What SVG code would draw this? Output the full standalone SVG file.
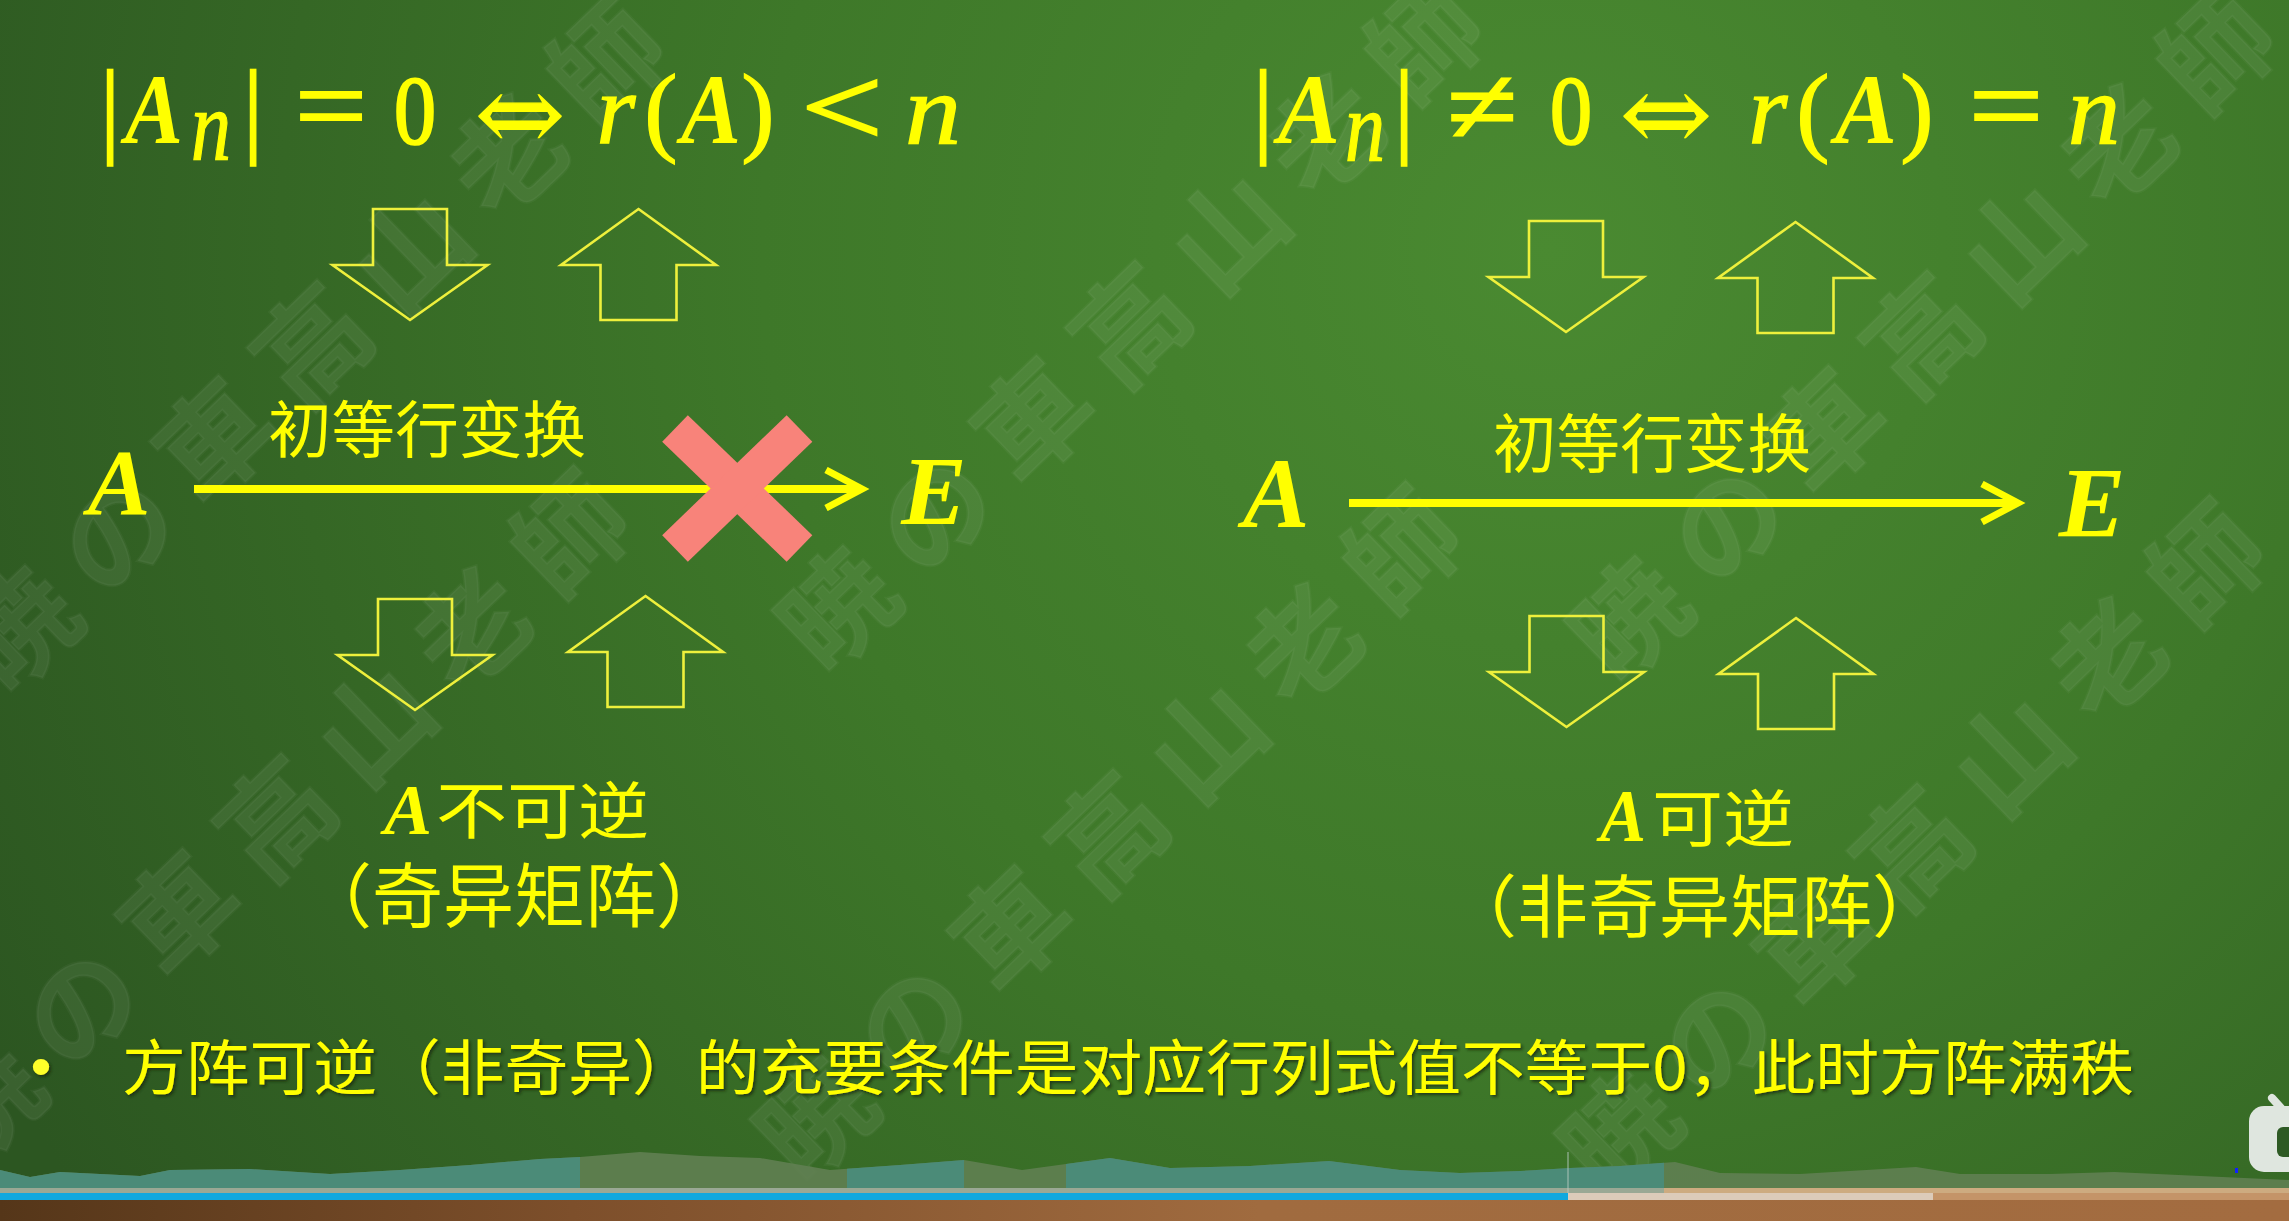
<svg xmlns="http://www.w3.org/2000/svg" width="2289" height="1221" viewBox="0 0 2289 1221">
<style>
.cjk{font-family:"Noto Sans CJK SC","Noto Sans CJK JP",sans-serif;fill:#ffff00}
.m{font-family:"Liberation Serif","DejaVu Serif",serif;fill:#ffff00;text-anchor:middle}
.f{stroke:#ffff00;stroke-width:1.3}
.fb{stroke:#ffff00;stroke-width:2.2}
.mi{font-style:italic}
.mb{font-style:italic;font-weight:bold}
.sym{font-family:"DejaVu Serif",serif;fill:#ffff00;text-anchor:middle}
.blk{fill:none;stroke:#eef03c;stroke-width:2.6;stroke-linejoin:miter}
.hline{stroke:#ffff00;stroke-width:8;fill:none}
.wm{font-family:"Noto Sans CJK JP","Noto Sans CJK SC",sans-serif;font-weight:700;font-size:112px;letter-spacing:24px;fill:#ffffff;fill-opacity:0.065;stroke:#ffffff;stroke-opacity:0.035;stroke-width:3}
</style>
<defs>
<radialGradient id="bg" cx="1550" cy="250" r="1750" gradientUnits="userSpaceOnUse">
<stop offset="0" stop-color="#4a8a31"/>
<stop offset="0.45" stop-color="#3e7829"/>
<stop offset="1" stop-color="#2c5621"/>
</radialGradient>
<linearGradient id="wood" x1="0" y1="0" x2="2289" y2="0" gradientUnits="userSpaceOnUse">
<stop offset="0" stop-color="#553619"/>
<stop offset="0.25" stop-color="#7d4f2b"/>
<stop offset="0.55" stop-color="#a06b3f"/>
<stop offset="1" stop-color="#a36c40"/>
</linearGradient>
<path id="dn" d="M-37,0 H37 V56 H77.5 L0,111 L-77.5,56 H-37 Z"/>
<path id="up" d="M0,0 L77.5,56 H38 V111 H-38 V56 H-77.5 Z"/>
<polygon id="wave" points="0,1170 30,1177 60,1172 140,1176 170,1170 250,1169 330,1174 400,1170 470,1165 540,1159 580,1157 640,1152 700,1156 760,1158 830,1170 900,1165 964,1160 1022,1170 1110,1158 1170,1168 1250,1166 1329,1161 1400,1170 1460,1173 1520,1171 1570,1168 1620,1166 1675,1162 1720,1173 1800,1174 1916,1167 1960,1174 2050,1174 2114,1172 2200,1176 2289,1180 2289,1190 0,1190"/>
<marker id="chev" markerUnits="userSpaceOnUse" viewBox="0 0 60 44" markerWidth="60" markerHeight="44" refX="40" refY="22" orient="auto">
<path d="M4,3 L40,22 L4,41" fill="none" stroke="#ffff00" stroke-width="7" stroke-linejoin="miter"/>
</marker>
<filter id="sh" x="-5%" y="-30%" width="110%" height="160%">
<feDropShadow dx="2" dy="2" stdDeviation="1.5" flood-color="#142a0c" flood-opacity="0.8"/>
</filter>
<clipPath id="teal">
<rect x="0" y="1100" width="580" height="100"/>
<rect x="847" y="1100" width="117" height="100"/>
<rect x="1066" y="1100" width="598" height="100"/>
</clipPath>
</defs>

<g id="background">
<rect x="0" y="0" width="2289" height="1221" fill="url(#bg)"/>
</g>

<g id="watermark">
<text class="wm" transform="translate(20,630) rotate(-44)" x="-56" y="40">暁の車高山老師</text>
<text class="wm" transform="translate(-16,1103) rotate(-44)" x="-56" y="40">暁の車高山老師</text>
<text class="wm" transform="translate(838,610) rotate(-44)" x="-56" y="40">暁の車高山老師</text>
<text class="wm" transform="translate(816,1119) rotate(-44)" x="-56" y="40">暁の車高山老師</text>
<text class="wm" transform="translate(1620,1133) rotate(-44)" x="-56" y="40">暁の車高山老師</text>
<text class="wm" transform="translate(1630,620) rotate(-44)" x="-56" y="40">暁の車高山老師</text>
</g>

<g id="formula-left" font-size="100">
<text class="m f" x="110" y="143" font-size="106">|</text>
<text class="m mb" x="154" y="143" textLength="58" lengthAdjust="spacingAndGlyphs">A</text>
<text class="m mi f" x="211" y="159" textLength="40" lengthAdjust="spacingAndGlyphs">n</text>
<text class="m f" x="253" y="143" font-size="106">|</text>
<text class="m fb" x="331" y="143" font-size="112" textLength="72" lengthAdjust="spacingAndGlyphs">=</text>
<text class="m fb" x="415" y="143" font-size="98" textLength="42" lengthAdjust="spacingAndGlyphs">0</text>
<text class="sym f" x="520" y="150" font-size="104" textLength="90" lengthAdjust="spacingAndGlyphs">⇔</text>
<text class="m mi f" x="616" y="143">r</text>
<text class="m f" x="661" y="143">(</text>
<text class="m mb" x="711" y="143" textLength="60" lengthAdjust="spacingAndGlyphs">A</text>
<text class="m f" x="758" y="143">)</text>
<text class="m fb" x="842" y="145" font-size="112" textLength="82" lengthAdjust="spacingAndGlyphs">&lt;</text>
<text class="m mi f" x="933" y="143" textLength="56" lengthAdjust="spacingAndGlyphs">n</text>
</g>

<g id="formula-right" font-size="100">
<text class="m f" x="1263" y="143" font-size="106">|</text>
<text class="m mb" x="1309" y="143" textLength="62" lengthAdjust="spacingAndGlyphs">A</text>
<text class="m mi f" x="1365" y="160" textLength="40" lengthAdjust="spacingAndGlyphs">n</text>
<text class="m f" x="1404" y="143" font-size="106">|</text>
<text class="m fb" x="1482" y="143" font-size="108" textLength="70" lengthAdjust="spacingAndGlyphs">≠</text>
<text class="m fb" x="1571" y="143" font-size="98" textLength="42" lengthAdjust="spacingAndGlyphs">0</text>
<text class="sym f" x="1666" y="150" font-size="104" textLength="92" lengthAdjust="spacingAndGlyphs">⇔</text>
<text class="m mi f" x="1768" y="143">r</text>
<text class="m f" x="1813" y="143">(</text>
<text class="m mb" x="1866" y="143" textLength="62" lengthAdjust="spacingAndGlyphs">A</text>
<text class="m f" x="1917" y="143">)</text>
<text class="m fb" x="2006" y="143" font-size="112" textLength="74" lengthAdjust="spacingAndGlyphs">=</text>
<text class="m mi f" x="2094" y="143" textLength="52" lengthAdjust="spacingAndGlyphs">n</text>
</g>

<g id="node-A-left"><text class="m mb" x="119" y="514" font-size="94">A</text></g>
<g id="node-E-left"><text class="m mb" x="934" y="524" font-size="98">E</text></g>
<g id="node-A-right"><text class="m mb" x="1276" y="527" font-size="100">A</text></g>
<g id="node-E-right"><text class="m mb" x="2092" y="536" font-size="100">E</text></g>

<g id="connectors">
<use href="#dn" class="blk" x="410" y="209"/>
<use href="#up" class="blk" x="638.5" y="209"/>
<use href="#dn" class="blk" x="415" y="599"/>
<use href="#up" class="blk" x="645.5" y="596"/>
<use href="#dn" class="blk" x="1566" y="221"/>
<use href="#up" class="blk" x="1795.5" y="222"/>
<use href="#dn" class="blk" x="1566.5" y="616"/>
<use href="#up" class="blk" x="1796" y="618"/>
<line class="hline" x1="194" y1="489" x2="862" y2="489" marker-end="url(#chev)"/>
<line class="hline" x1="1349" y1="503" x2="2018" y2="503" marker-end="url(#chev)"/>
</g>

<g id="label-left"><text class="cjk" x="268" y="453" font-size="62" textLength="318" lengthAdjust="spacingAndGlyphs">初等行变换</text></g>
<g id="label-right"><text class="cjk" x="1493" y="467" font-size="64" textLength="318" lengthAdjust="spacingAndGlyphs">初等行变换</text></g>

<g id="cross">
<line x1="675" y1="428.5" x2="799.5" y2="548.5" stroke="#f8837a" stroke-width="37"/>
<line x1="799.5" y1="428.5" x2="675" y2="548.5" stroke="#f8837a" stroke-width="37"/>
</g>

<g id="result-left">
<text class="m mb" x="408" y="834" font-size="72" textLength="48" lengthAdjust="spacingAndGlyphs">A</text>
<text class="cjk" x="436" y="834" font-size="62" textLength="213" lengthAdjust="spacingAndGlyphs">不可逆</text>
<text class="cjk" x="301" y="922" font-size="70" textLength="426" lengthAdjust="spacingAndGlyphs">（奇异矩阵）</text>
</g>

<g id="result-right">
<text class="m mb" x="1623" y="841" font-size="74" textLength="46" lengthAdjust="spacingAndGlyphs">A</text>
<text class="cjk" x="1652" y="842" font-size="62" textLength="142" lengthAdjust="spacingAndGlyphs">可逆</text>
<text class="cjk" x="1446" y="932" font-size="68" textLength="497" lengthAdjust="spacingAndGlyphs">（非奇异矩阵）</text>
</g>

<g id="note" filter="url(#sh)">
<text x="41" y="1087" font-family="Liberation Sans,sans-serif" font-size="60" fill="#ffff2a" text-anchor="middle">•</text>
<text class="cjk" x="122" y="1090" font-size="60" fill="#ffff2a" textLength="2012" lengthAdjust="spacingAndGlyphs">方阵可逆（非奇异）的充要条件是对应行列式值不等于0，此时方阵满秩</text>
</g>

<g id="progress">
<use href="#wave" fill="#617f52" fill-opacity="0.9"/>
<use href="#wave" fill="#4b8b78" clip-path="url(#teal)"/>
<rect x="0" y="1188" width="1664" height="6" fill="#9aa894"/>
<rect x="1664" y="1188" width="625" height="6" fill="#cdab80"/>
<rect x="0" y="1194" width="2289" height="27" fill="url(#wood)"/>
<rect x="1568" y="1193" width="365" height="7" fill="#dccbb9"/>
<rect x="1933" y="1193" width="356" height="7" fill="#c49468"/>
<rect x="0" y="1193" width="1568" height="7" fill="#10a8de"/>
<line x1="1568" y1="1152" x2="1568" y2="1193" stroke="#b8c8c0" stroke-width="1.5" stroke-opacity="0.6"/>
<rect x="2235" y="1168" width="3" height="5" fill="#1020ff"/>
<g id="tv-icon">
<line x1="2272" y1="1098" x2="2281" y2="1108" stroke="#dfe6df" stroke-width="8" stroke-linecap="round"/>
<rect x="2249" y="1106" width="70" height="66" rx="15" fill="#dfe6df"/>
<rect x="2277" y="1127" width="30" height="30" rx="6" fill="#2e5a24"/>
</g>
</g>
</svg>
